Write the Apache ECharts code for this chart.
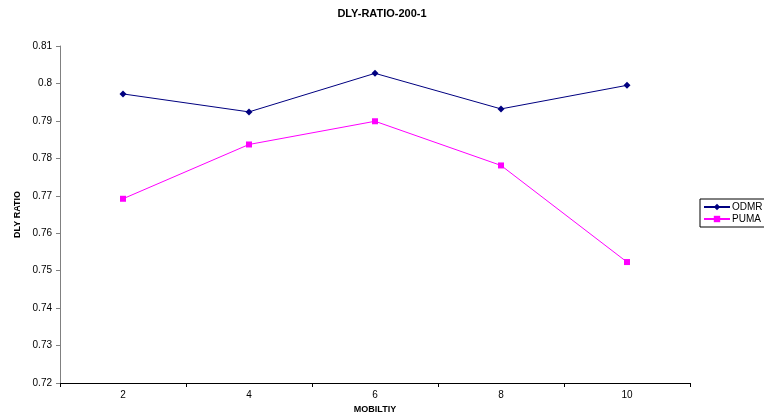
<!DOCTYPE html>
<html>
<head>
<meta charset="utf-8">
<script src="https://cdn.jsdelivr.net/npm/echarts@6/dist/echarts.min.js"></script>
<style>
  html, body { margin: 0; padding: 0; background: #fff; }
  #main { width: 764px; height: 419px; }
</style>
</head>
<body>
<div id="main"></div>
<script>
var categories = ['2', '4', '6', '8', '10'];
var odmr = [0.7972, 0.7924, 0.8027, 0.7932, 0.7995];
var puma = [0.7692, 0.7837, 0.7899, 0.7781, 0.7523];

var myChart = echarts.init(document.getElementById('main'));
var font = 'Liberation Sans, Arial, sans-serif';

var option = {
  animation: false,
  backgroundColor: '#fff',
  title: {
    text: 'DLY-RATIO-200-1',
    left: 'center',
    top: 3,
    textStyle: { fontFamily: font, fontSize: 11, fontWeight: 'bold', color: '#000' }
  },
  legend: {
    orient: 'vertical',
    left: 700,
    top: 199,
    borderColor: '#000',
    borderWidth: 1,
    borderRadius: 0,
    padding: [3, 10, 3, 3],
    itemGap: 2,
    itemWidth: 26,
    itemHeight: 8,
    textStyle: { fontFamily: font, fontSize: 10, color: '#000', padding: [0, 0, 0, -3] },
    data: ['ODMR', 'PUMA']
  },
  grid: { left: 60, right: 74, top: 46, bottom: 36 },
  xAxis: {
    type: 'category',
    data: categories,
    name: 'MOBILTIY',
    nameLocation: 'center',
    nameGap: 20,
    nameTextStyle: { fontFamily: font, fontSize: 9, fontWeight: 'bold', color: '#000' },
    axisLine: { lineStyle: { color: '#000', width: 1 } },
    axisTick: { show: true, length: 4, lineStyle: { color: '#000' } },
    axisLabel: { fontFamily: font, fontSize: 10, color: '#000', margin: 7 },
    splitLine: { show: false }
  },
  yAxis: {
    type: 'value',
    min: 0.72,
    max: 0.81,
    interval: 0.01,
    name: 'DLY RATIO',
    nameLocation: 'center',
    nameGap: 37,
    nameRotate: 90,
    nameTextStyle: { fontFamily: font, fontSize: 9, fontWeight: 'bold', color: '#000' },
    axisLine: { show: true, lineStyle: { color: '#808080', width: 1 } },
    axisTick: { show: true, length: 4, lineStyle: { color: '#808080' } },
    axisLabel: {
      fontFamily: font, fontSize: 10, color: '#000', margin: 8,
      formatter: function (v) { return String(+v.toFixed(2)); }
    },
    splitLine: { show: false }
  },
  series: [
    {
      name: 'ODMR',
      type: 'line',
      data: odmr,
      symbol: 'diamond',
      symbolSize: 7,
      itemStyle: { color: '#000080' },
      lineStyle: { color: '#000080', width: 1 }
    },
    {
      name: 'PUMA',
      type: 'line',
      data: puma,
      symbol: 'rect',
      symbolSize: 6,
      itemStyle: { color: '#ff00ff' },
      lineStyle: { color: '#ff00ff', width: 1 }
    }
  ]
};

myChart.setOption(option);
</script>
</body>
</html>
